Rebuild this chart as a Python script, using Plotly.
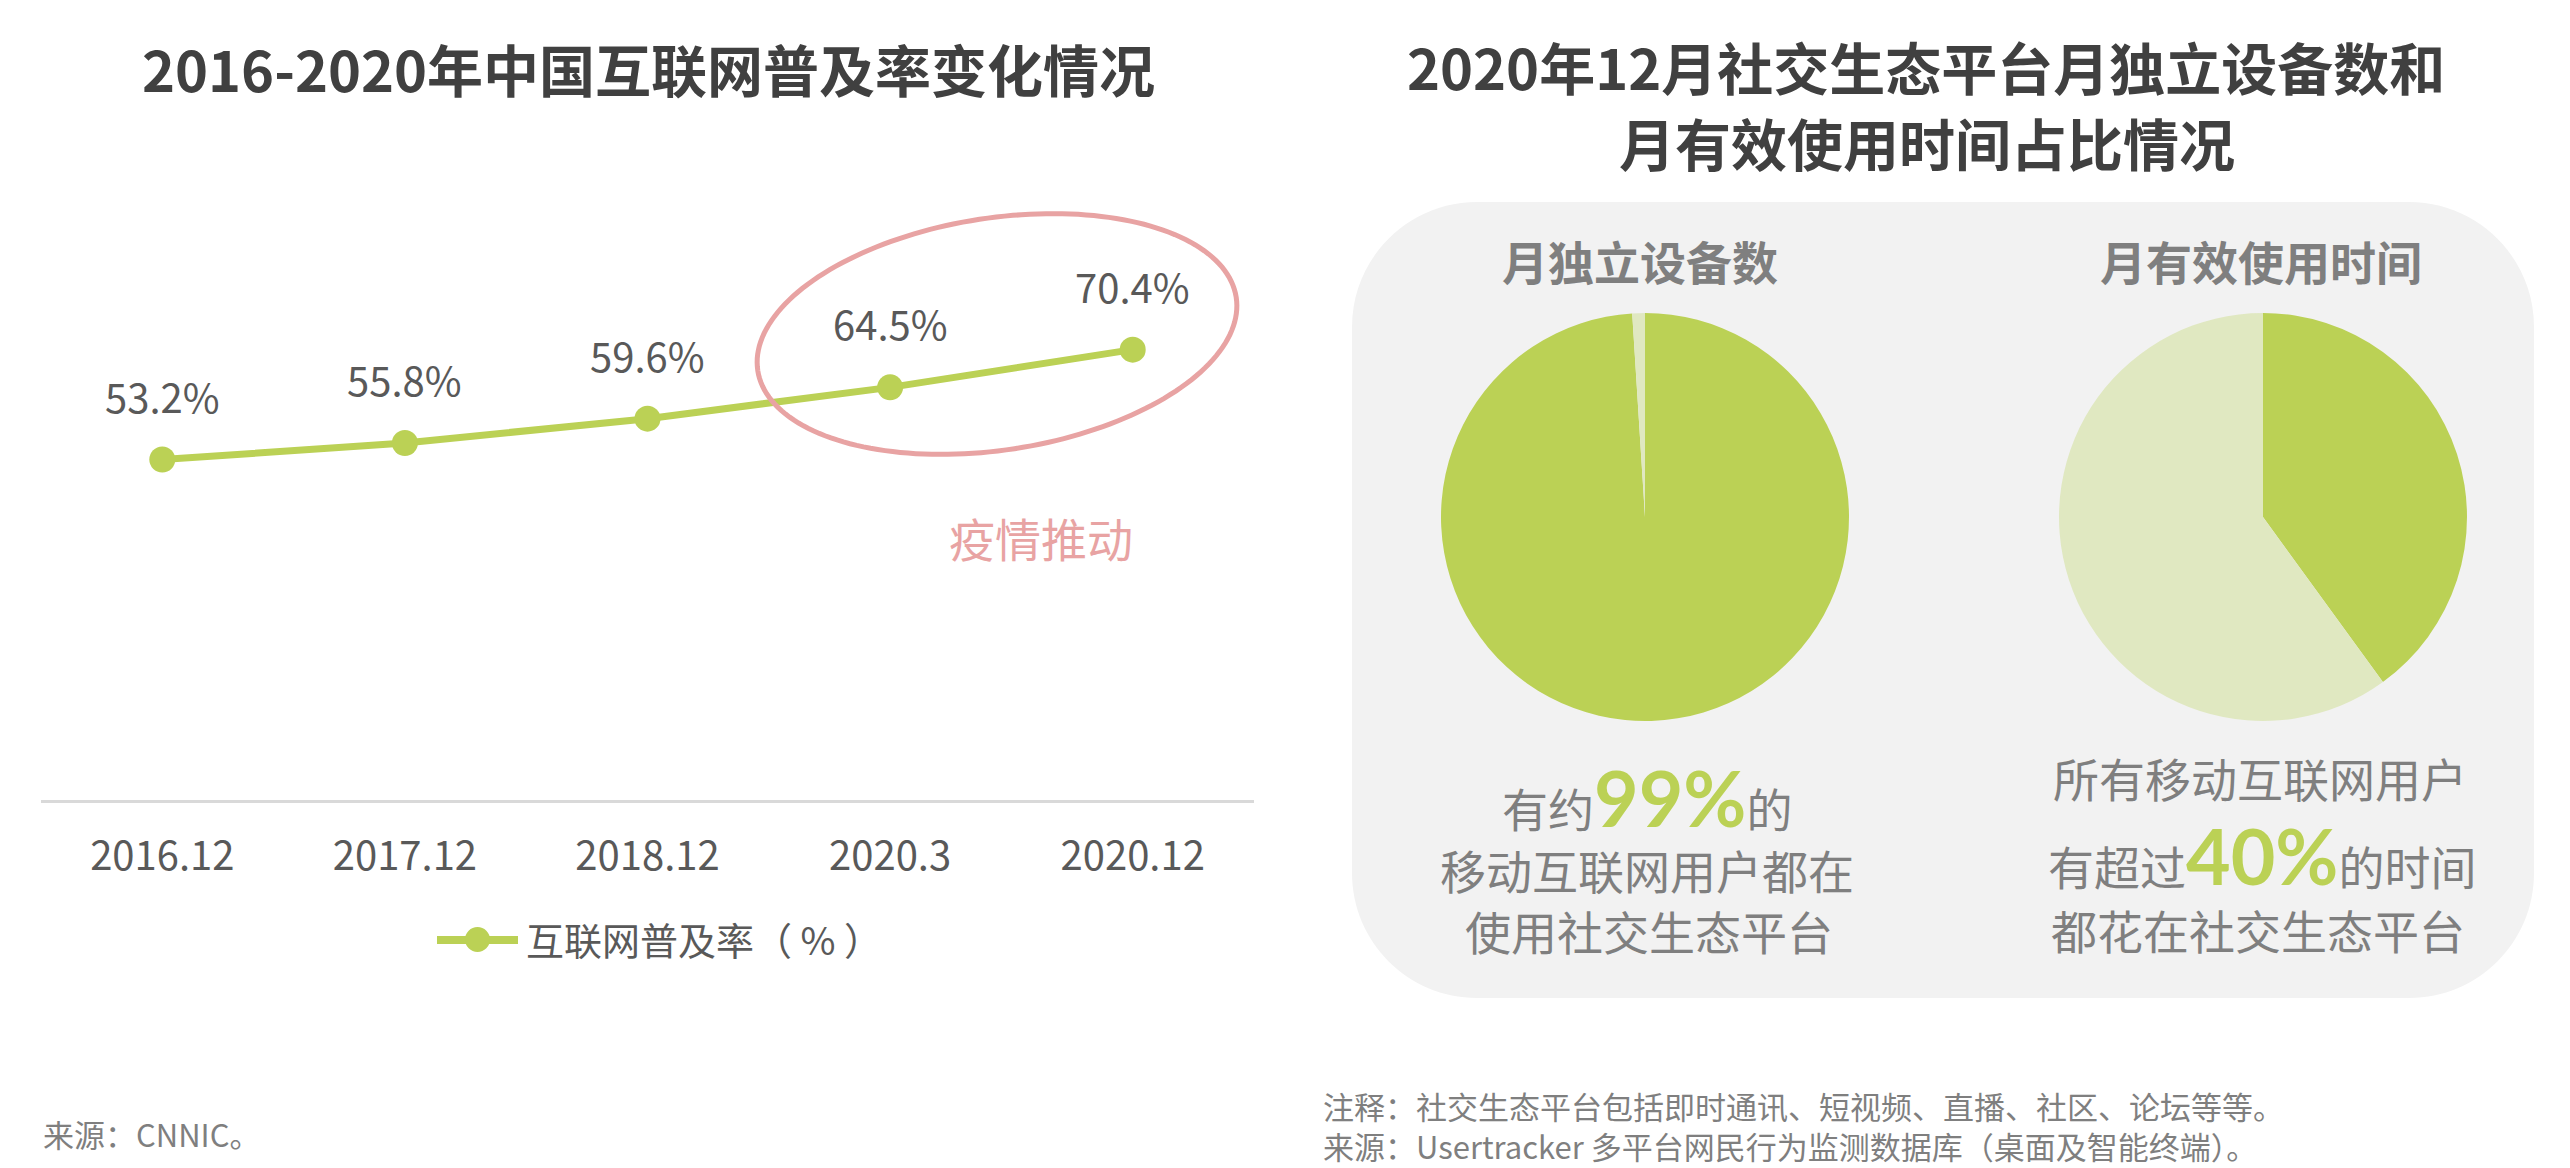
import numpy as np
import plotly.graph_objects as go

W, H = 2570, 1168

# ---------------- data ----------------
categories = ["2016.12", "2017.12", "2018.12", "2020.3", "2020.12"]
penetration = [53.2, 55.8, 59.6, 64.5, 70.4]
series_name = "互联网普及率（ % ）"

device_labels = ["使用社交生态平台", "其他"]
device_values = [99, 1]
time_labels = ["社交生态平台", "其他"]
time_values = [40, 60]

# ---------------- style ----------------
FONT = "Noto Sans CJK SC, Noto Sans, sans-serif"
GREEN = "#BBD155"
LIGHT = "#E0E8C1"
PINK = "#E8A3A3"
TITLE_C = "#404040"
TICK_C = "#595959"
GREY_T = "#7F7F7F"


def px(x):
    return x / W


def py(y):
    return 1 - y / H


fig = go.Figure()

# line chart
fig.add_trace(go.Scatter(
    x=categories, y=penetration, mode="lines+markers",
    line=dict(color=GREEN, width=7), marker=dict(size=26, color=GREEN),
    name=series_name, showlegend=False, hoverinfo="skip",
    xaxis="x", yaxis="y"))

# pies
fig.add_trace(go.Pie(
    values=device_values, labels=device_labels, sort=False,
    direction="clockwise", rotation=0, textinfo="none", hoverinfo="skip",
    showlegend=False, marker=dict(colors=[GREEN, LIGHT], line=dict(width=0)),
    domain=dict(x=[px(1441), px(1849)], y=[py(721), py(313)])))
fig.add_trace(go.Pie(
    values=time_values, labels=time_labels, sort=False,
    direction="clockwise", rotation=0, textinfo="none", hoverinfo="skip",
    showlegend=False, marker=dict(colors=[GREEN, LIGHT], line=dict(width=0)),
    domain=dict(x=[px(2059), px(2467)], y=[py(721), py(313)])))

# ---------------- shapes ----------------
shapes = []


def rounded_rect(x0, y0, x1, y1, r):
    k = 0.5523 * r
    p = []
    p.append(f"M {px(x0 + r)},{py(y0)}")
    p.append(f"L {px(x1 - r)},{py(y0)}")
    p.append(f"C {px(x1 - r + k)},{py(y0)} {px(x1)},{py(y0 + r - k)} {px(x1)},{py(y0 + r)}")
    p.append(f"L {px(x1)},{py(y1 - r)}")
    p.append(f"C {px(x1)},{py(y1 - r + k)} {px(x1 - r + k)},{py(y1)} {px(x1 - r)},{py(y1)}")
    p.append(f"L {px(x0 + r)},{py(y1)}")
    p.append(f"C {px(x0 + r - k)},{py(y1)} {px(x0)},{py(y1 - r + k)} {px(x0)},{py(y1 - r)}")
    p.append(f"L {px(x0)},{py(y0 + r)}")
    p.append(f"C {px(x0)},{py(y0 + r - k)} {px(x0 + r - k)},{py(y0)} {px(x0 + r)},{py(y0)} Z")
    return " ".join(p)


shapes.append(dict(type="path", xref="paper", yref="paper",
                   path=rounded_rect(1352, 202, 2534, 998, 125),
                   fillcolor="#F2F2F2", line=dict(width=0), layer="below"))

# tilted ellipse highlighting the epidemic period
cx, cy, ea, eb, th = 997, 334, 242, 116, np.deg2rad(-8.7)
t = np.linspace(0, 2 * np.pi, 181)
ex = cx + ea * np.cos(t) * np.cos(th) - eb * np.sin(t) * np.sin(th)
ey = cy + ea * np.cos(t) * np.sin(th) + eb * np.sin(t) * np.cos(th)
epath = "M " + " L ".join(f"{px(a):.5f},{py(b):.5f}" for a, b in zip(ex, ey)) + " Z"
shapes.append(dict(type="path", xref="paper", yref="paper", path=epath,
                   line=dict(color=PINK, width=5), fillcolor="rgba(0,0,0,0)"))

# custom legend symbol
shapes.append(dict(type="line", xref="paper", yref="paper",
                   x0=px(437), x1=px(518), y0=py(940), y1=py(940),
                   line=dict(color=GREEN, width=8)))
shapes.append(dict(type="circle", xref="paper", yref="paper",
                   x0=px(465), x1=px(490), y0=py(952), y1=py(927),
                   fillcolor=GREEN, line=dict(width=0)))

# ---------------- annotations ----------------
ann = []


def text(x, y, s, size, color, xanchor="center", bold=False, align="center"):
    if bold:
        s = "<br>".join(f"<b>{part}</b>" for part in s.split("<br>"))
    ann.append(dict(x=px(x), y=py(y), xref="paper", yref="paper", text=s,
                    showarrow=False, xanchor=xanchor, yanchor="middle", align=align,
                    font=dict(family=FONT, size=size, color=color)))


# titles
text(648, 67, "2016-2020年中国互联网普及率变化情况", 56, TITLE_C, bold=True)
text(1926, 66, "2020年12月社交生态平台月独立设备数和", 56, TITLE_C, bold=True)
text(1927, 141, "月有效使用时间占比情况", 56, TITLE_C, bold=True)

# data labels (category index positions on the line chart axes)
for i, v in enumerate(penetration):
    ann.append(dict(x=i, y=v, xref="x", yref="y", text=f"{v}%", showarrow=False,
                    yshift=64, xanchor="center", yanchor="middle",
                    font=dict(family=FONT, size=40, color=TICK_C)))

text(1041, 537, "疫情推动", 46, PINK)

# legend text
text(524, 938, series_name, 38, TICK_C, xanchor="left")

# sources
text(41, 1133, "来源：CNNIC。", 31, GREY_T, xanchor="left")
text(1321, 1125, "注释：社交生态平台包括即时通讯、短视频、直播、社区、论坛等等。<br>"
     "来源：Usertracker 多平台网民行为监测数据库（桌面及智能终端）。", 31, GREY_T,
     xanchor="left", align="left")

# pie subtitles
text(1640, 260, "月独立设备数", 46, GREY_T, bold=True)
text(2261, 260, "月有效使用时间", 46, GREY_T, bold=True)

big = ("<span style='font-family:Lato, Noto Sans CJK SC, sans-serif;"
       "font-size:77px;color:%s'><b>{}</b></span>" % GREEN)
text(1647, 797, "有约" + big.format(f"{device_values[0]}%") + "的", 46, GREY_T)
text(1647, 869, "移动互联网用户都在", 46, GREY_T)
text(1649, 930, "使用社交生态平台", 46, GREY_T)

text(2260, 777, "所有移动互联网用户", 46, GREY_T)
text(2262, 855, "有超过" + big.format(f"{time_values[0]}%") + "的时间", 46, GREY_T)
text(2258, 929, "都花在社交生态平台", 46, GREY_T)

# ---------------- layout ----------------
fig.update_layout(
    width=W, height=H, autosize=False,
    margin=dict(l=0, r=0, t=0, b=0, pad=0),
    paper_bgcolor="white", plot_bgcolor="rgba(0,0,0,0)",
    font=dict(family=FONT, color=TICK_C),
    showlegend=False,
    shapes=shapes, annotations=ann,
    xaxis=dict(domain=[px(41), px(1254)], type="category", range=[-0.5, 4.5],
               showline=True, linecolor="#D9D9D9", linewidth=3,
               showgrid=False, zeroline=False, ticks="",
               ticklabelstandoff=19,
               tickfont=dict(family=FONT, size=40, color=TICK_C),
               fixedrange=True),
    yaxis=dict(domain=[py(799.5), py(288.3)], range=[0, 80], visible=False,
               showgrid=False, zeroline=False, fixedrange=True),
)

fig.write_html("out.html", config={"displayModeBar": False, "staticPlot": True},
               post_script="document.body.style.margin='0';document.body.style.overflow='hidden';")
